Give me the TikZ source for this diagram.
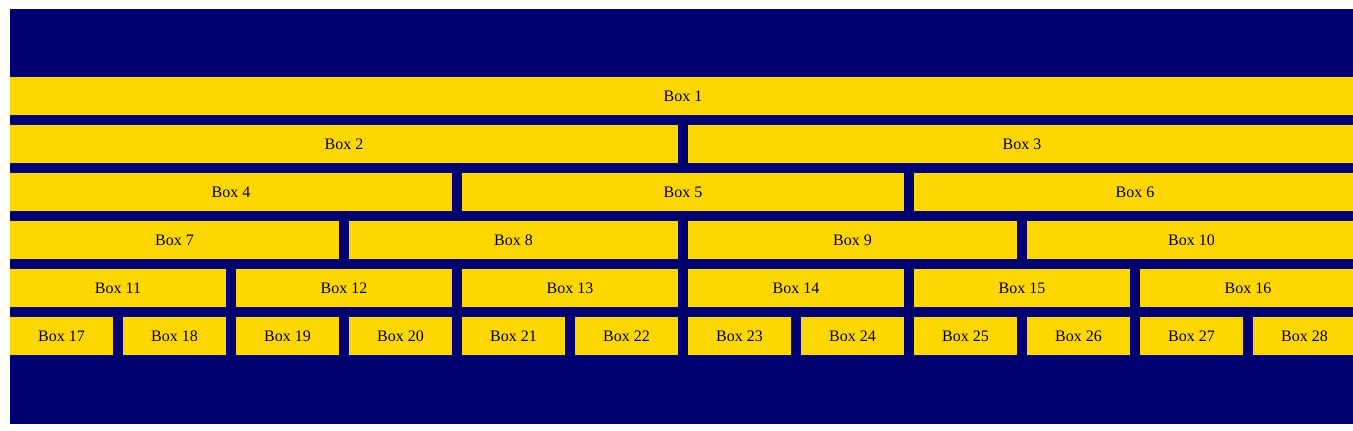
\documentclass[tikz,border=0pt]{standalone}
\usepackage{fontspec}
\setmainfont{Liberation Serif}
\definecolor{bgnavy}{RGB}{0,0,112}
\definecolor{boxgold}{RGB}{255,215,0}

\begin{document}
\begin{tikzpicture}[
    x=0.75pt, y=-0.75pt,
    panel/.style={fill=bgnavy},
    boxcell/.style={rectangle, fill=boxgold, inner sep=0pt, outer sep=0pt, anchor=north west, minimum height=28.5pt, font=\fontsize{12}{14}\selectfont}]
  \useasboundingbox (0,0) rectangle (1353,430);
  \fill[panel] (10,9) rectangle (1353,424);
  \begin{scope}
    \clip (10,9) rectangle (1353,424);
    % rows of 1, 2, 3, 4, 6 and 12 boxes
    \foreach \n/\first [count=\r] in {1/1, 2/2, 3/4, 4/7, 6/11, 12/17} {
      \foreach \i in {1,...,\n} {
        \pgfmathtruncatemacro{\k}{\first+\i-1}
        \pgfmathsetmacro{\w}{(1356/\n-10)*0.75}
        \node[boxcell, minimum width=\w pt] (box\k) at ({10+(\i-1)*1356/\n}, {77+(\r-1)*48}) {Box \k};
      }
    }
  \end{scope}
\end{tikzpicture}
\end{document}
